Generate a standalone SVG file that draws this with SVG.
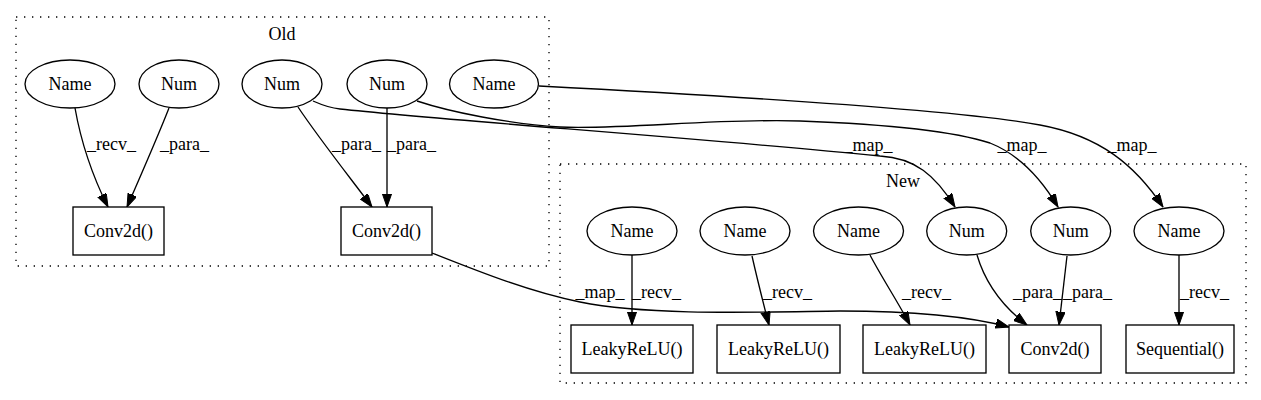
<svg xmlns="http://www.w3.org/2000/svg" width="1261" height="400" viewBox="0 0 1261 400">
<style>
  .cl { fill: none; stroke: #000; stroke-width: 1.33; stroke-dasharray: 1.33,6.67; }
  .nd { fill: #fff; stroke: #000; stroke-width: 1.33; }
  .t { font-family: "Liberation Serif", "Times New Roman", serif; font-size: 18px; fill: #000; }
  .c { text-anchor: middle; }
  .e { fill: none; stroke: #000; stroke-width: 1.33; marker-end: url(#ah); }
</style>
<defs>
  <marker id="ah" markerUnits="userSpaceOnUse" markerWidth="14" markerHeight="10" refX="13.3" refY="4.67" orient="auto">
    <path d="M0,0 L13.3,4.67 L0,9.33 z" fill="#000" stroke="#000" stroke-width="1"/>
  </marker>
</defs>
<rect width="1261" height="400" fill="#fff"/>

<g id="cluster_old">
  <rect class="cl" x="16" y="17" width="533" height="249"/>
  <text class="t c" x="282" y="40">Old</text>
</g>
<g id="cluster_new">
  <rect class="cl" x="560" y="164" width="686" height="219"/>
  <text class="t c" x="903" y="187">New</text>
</g>

<g id="connectors">
  <path class="e" d="M75,108 C81,142 92,175 108,207"/>
  <text class="t" x="87" y="150">_recv_</text>
  <path class="e" d="M169,108 C158,136 141,175 127,207"/>
  <text class="t" x="160" y="150">_para_</text>
  <path class="e" d="M298,107 C318,137 348,175 372,207"/>
  <text class="t" x="332" y="150">_para_</text>
  <path class="e" d="M387,108 L387,207"/>
  <text class="t" x="387" y="150">_para_</text>

  <path class="e" d="M313,101 C322,105 330,108 340,109 C440,120 700,138 880,156 C915,158 935,175 955,207"/>
  <text class="t c" x="868" y="151">_map_</text>
  <path class="e" d="M417,101 C450,112 510,124 560,127 C620,130 720,118 800,121 C880,124 950,130 990,143 C1020,155 1042,180 1058,207"/>
  <text class="t c" x="1022" y="151">_map_</text>
  <path class="e" d="M539,86 C750,97 960,110 1040,125 C1100,136 1135,165 1163,207"/>
  <text class="t c" x="1132" y="151">_map_</text>
  <path class="e" d="M432,253 C480,272 530,292 580,302 C650,316 760,312 840,311 C920,311 975,318 1009,327"/>
  <text class="t c" x="600" y="298">_map_</text>

  <path class="e" d="M632,255 L632,325"/>
  <text class="t" x="632" y="298">_recv_</text>
  <path class="e" d="M752,256 C757,278 763,302 769,325"/>
  <text class="t" x="763" y="298">_recv_</text>
  <path class="e" d="M870,255 C882,278 898,302 910,325"/>
  <text class="t" x="902" y="298">_recv_</text>
  <path class="e" d="M977,255 C985,282 1002,306 1027,325"/>
  <text class="t" x="1013" y="298">_para_</text>
  <path class="e" d="M1067,256 L1059,325"/>
  <text class="t" x="1063" y="298">_para_</text>
  <path class="e" d="M1179,255 L1179,325"/>
  <text class="t" x="1180" y="298">_recv_</text>
</g>

<g id="old_name1"><ellipse class="nd" cx="70" cy="84" rx="45" ry="24"/><text class="t c" x="70" y="90">Name</text></g>
<g id="old_num1"><ellipse class="nd" cx="179" cy="84" rx="40" ry="24"/><text class="t c" x="179" y="90">Num</text></g>
<g id="old_num2"><ellipse class="nd" cx="282" cy="84" rx="40" ry="24"/><text class="t c" x="282" y="90">Num</text></g>
<g id="old_num3"><ellipse class="nd" cx="387" cy="84" rx="40" ry="24"/><text class="t c" x="387" y="90">Num</text></g>
<g id="old_name2"><ellipse class="nd" cx="494" cy="84" rx="44.5" ry="24"/><text class="t c" x="494" y="90">Name</text></g>
<g id="old_conv1"><rect class="nd" x="73" y="207" width="91" height="48"/><text class="t c" x="118.5" y="237">Conv2d()</text></g>
<g id="old_conv2"><rect class="nd" x="341" y="207" width="91" height="48"/><text class="t c" x="386.5" y="237">Conv2d()</text></g>

<g id="new_name1"><ellipse class="nd" cx="632" cy="231" rx="45" ry="24"/><text class="t c" x="632" y="237">Name</text></g>
<g id="new_name2"><ellipse class="nd" cx="745" cy="231" rx="45" ry="24"/><text class="t c" x="745" y="237">Name</text></g>
<g id="new_name3"><ellipse class="nd" cx="858.5" cy="231" rx="45" ry="24"/><text class="t c" x="858.5" y="237">Name</text></g>
<g id="new_num1"><ellipse class="nd" cx="966.7" cy="231" rx="40" ry="24"/><text class="t c" x="966.7" y="237">Num</text></g>
<g id="new_num2"><ellipse class="nd" cx="1070.7" cy="231" rx="40" ry="24"/><text class="t c" x="1070.7" y="237">Num</text></g>
<g id="new_name4"><ellipse class="nd" cx="1179" cy="231" rx="45" ry="24"/><text class="t c" x="1179" y="237">Name</text></g>
<g id="new_lrelu1"><rect class="nd" x="571" y="325" width="122" height="48"/><text class="t c" x="632" y="355">LeakyReLU()</text></g>
<g id="new_lrelu2"><rect class="nd" x="717" y="325" width="123" height="48"/><text class="t c" x="778.5" y="355">LeakyReLU()</text></g>
<g id="new_lrelu3"><rect class="nd" x="863" y="325" width="123" height="48"/><text class="t c" x="924.5" y="355">LeakyReLU()</text></g>
<g id="new_conv"><rect class="nd" x="1009" y="325" width="92" height="48"/><text class="t c" x="1055" y="355">Conv2d()</text></g>
<g id="new_seq"><rect class="nd" x="1126" y="325" width="108" height="48"/><text class="t c" x="1180" y="355">Sequential()</text></g>
</svg>
